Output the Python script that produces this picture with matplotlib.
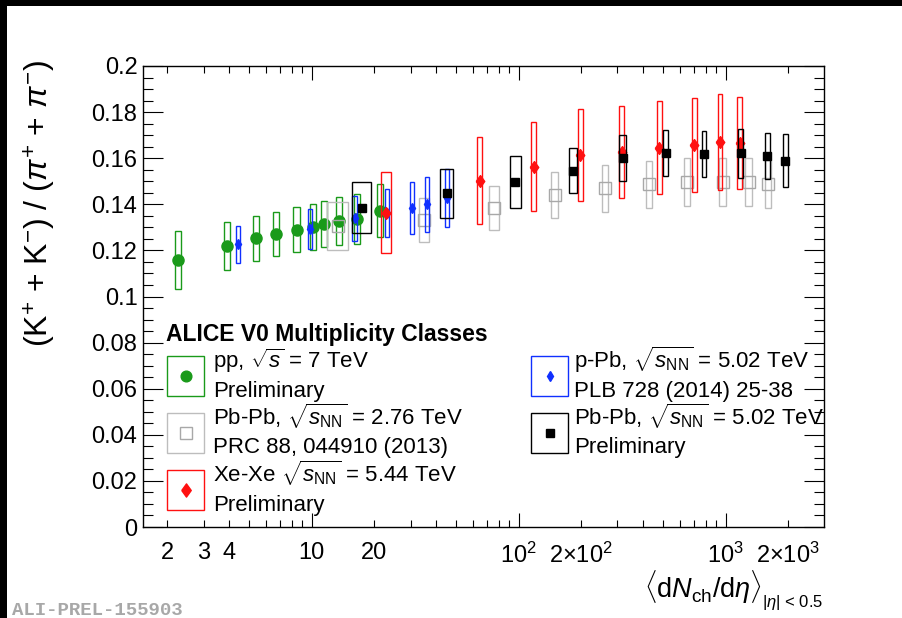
import matplotlib
matplotlib.use("Agg")
import matplotlib.pyplot as plt
from matplotlib.patches import Rectangle
from matplotlib.lines import Line2D
from matplotlib.ticker import FixedLocator, FuncFormatter, MultipleLocator

plt.rcParams['font.family'] = ['Liberation Sans', 'DejaVu Sans']
plt.rcParams['mathtext.fontset'] = 'custom'
plt.rcParams['mathtext.rm'] = 'Liberation Sans'
plt.rcParams['mathtext.it'] = 'Liberation Sans:italic'
plt.rcParams['mathtext.bf'] = 'Liberation Sans:bold'

# ---- data: <dNch/deta>, (K+ + K-)/(pi+ + pi-), syst. uncertainty, dNch/deta uncertainty ----
pp_x = [2.26, 3.90, 5.40, 6.72, 8.45, 10.1, 11.5, 13.5, 16.5, 21.3]
pp_y = [0.1158, 0.1220, 0.1252, 0.1271, 0.1289, 0.1303, 0.1315, 0.1328, 0.1336, 0.1373]
pp_sys = [0.0126, 0.0103, 0.0097, 0.0096, 0.0098, 0.0100, 0.0101, 0.0104, 0.0108, 0.0117]
pp_xerr = [0.08, 0.13, 0.18, 0.23, 0.29, 0.34, 0.39, 0.46, 0.56, 0.72]

pbpb276_x = [13.4, 35.0, 76.0, 149.0, 261.0, 426.0, 649.0, 966.0, 1294.0, 1601.0]
pbpb276_y = [0.1305, 0.1332, 0.1385, 0.1440, 0.1469, 0.1487, 0.1498, 0.1498, 0.1498, 0.1487]
pbpb276_sys = [0.0105, 0.0095, 0.0096, 0.0098, 0.0103, 0.0103, 0.0105, 0.0105, 0.0105, 0.0104]
pbpb276_xerr = [1.6, 2.0, 4.0, 6.0, 9.0, 15.0, 23.0, 37.0, 49.0, 60.0]

ppb_x = [4.4, 9.8, 16.1, 23.2, 30.5, 36.2, 45.0]
ppb_y = [0.1226, 0.1293, 0.1340, 0.1362, 0.1385, 0.1400, 0.1427]
ppb_sys = [0.0079, 0.0088, 0.0098, 0.0106, 0.0112, 0.0119, 0.0127]
ppb_xerr = [0.1, 0.2, 0.4, 0.5, 0.7, 0.8, 1.0]

xexe_x = [22.9, 64.7, 118.0, 198.0, 315.0, 478.0, 706.0, 939.0, 1167.0]
xexe_y = [0.1364, 0.1502, 0.1563, 0.1614, 0.1627, 0.1646, 0.1657, 0.1672, 0.1665]
xexe_sys = [0.0174, 0.0188, 0.0192, 0.0199, 0.0199, 0.0202, 0.0203, 0.0208, 0.0200]
xexe_xerr = [1.2, 1.8, 3.3, 5.5, 8.8, 13.0, 20.0, 26.0, 33.0]

pbpb502_x = [17.5, 44.9, 96.3, 183.0, 318.0, 512.0, 786.0, 1180.0, 1587.0, 1943.0]
pbpb502_y = [0.1385, 0.1448, 0.1498, 0.1546, 0.1602, 0.1621, 0.1617, 0.1621, 0.1610, 0.1589]
pbpb502_sys = [0.0111, 0.0106, 0.0113, 0.0099, 0.0100, 0.0100, 0.0100, 0.0105, 0.0100, 0.0114]
pbpb502_xerr = [1.8, 3.4, 5.8, 8.0, 12.0, 15.0, 20.0, 31.0, 47.0, 54.0]

x_label_pos = [2, 3, 4, 10, 20, 100, 200, 1000, 2000]
x_label_txt = ["2", "3", "4", "10", "20", r"$10^{2}$", r"$2{\times}10^{2}$",
               r"$10^{3}$", r"$2{\times}10^{3}$"]
y_tick_pos = [0.0, 0.02, 0.04, 0.06, 0.08, 0.10, 0.12, 0.14, 0.16, 0.18, 0.20]
y_tick_txt = ["0", "0.02", "0.04", "0.06", "0.08", "0.1", "0.12", "0.14", "0.16", "0.18", "0.2"]

GREEN = '#1a9a1a'
GRAY_BOX = '#bdbdbd'
GRAY_MK = '#a8a8a8'
RED = '#ff1010'
BLUE = '#1030ff'
BLACK = '#000000'

# ---- figure / axes in pixel units ----
W, H = 902, 618
fig = plt.figure(figsize=(W / 100, H / 100), dpi=100)
fig.patch.set_facecolor('white')
ax = fig.add_axes([143 / W, 1 - 527 / H, (824 - 143) / W, (527 - 66) / H])


def fx(px):
    return px / W


def fy(py):
    return 1 - py / H


# diamond marker with the proportions used here
red_diamond = [(-0.36, 0.0), (0.0, 0.5), (0.36, 0.0), (0.0, -0.5), (-0.36, 0.0)]


def draw_boxes(xs, ys, sys, xerr, color, z, lw=1.0):
    for xi, yi, si, ei in zip(xs, ys, sys, xerr):
        ax.add_patch(Rectangle((xi - ei, yi - si), 2 * ei, 2 * si, fill=False,
                               ec=color, lw=lw, zorder=z))


draw_boxes(pp_x, pp_y, pp_sys, pp_xerr, GREEN, 2)
ax.plot(pp_x, pp_y, ls='none', marker='o', ms=8, color=GREEN, mec=GREEN, zorder=2.5)

draw_boxes(pbpb276_x, pbpb276_y, pbpb276_sys, pbpb276_xerr, GRAY_BOX, 3)
ax.plot(pbpb276_x, pbpb276_y, ls='none', marker='s', ms=8, mfc='none', mec=GRAY_MK,
        mew=1.0, zorder=3.5)

draw_boxes(ppb_x, ppb_y, ppb_sys, ppb_xerr, BLUE, 4)
ax.plot(ppb_x, ppb_y, ls='none', marker='d', ms=5, color=BLUE, mec=BLUE, zorder=4.5)

draw_boxes(xexe_x, xexe_y, xexe_sys, xexe_xerr, RED, 5)
ax.plot(xexe_x, xexe_y, ls='none', marker=red_diamond, ms=8.5, color=RED, mec=RED,
        zorder=5.5)

draw_boxes(pbpb502_x, pbpb502_y, pbpb502_sys, pbpb502_xerr, BLACK, 6)
ax.plot(pbpb502_x, pbpb502_y, ls='none', marker='s', ms=5.5, color=BLACK, zorder=6.5)

# ---- axes ----
ax.set_xscale('log')
ax.set_xlim(1.53, 2985)
ax.set_ylim(0, 0.2)

label_map = dict(zip(x_label_pos, x_label_txt))
majors = [10, 100, 1000]
minors = [m * 10 ** d for d in range(0, 4) for m in range(2, 10) if 1.53 <= m * 10 ** d <= 2985]
ax.xaxis.set_major_locator(FixedLocator(majors))
ax.xaxis.set_minor_locator(FixedLocator(minors))


def xfmt(v, pos):
    for k, t in label_map.items():
        if abs(v - k) < 1e-6 * k:
            return t
    return ""


ax.xaxis.set_major_formatter(FuncFormatter(xfmt))
ax.xaxis.set_minor_formatter(FuncFormatter(xfmt))

ax.yaxis.set_major_locator(FixedLocator(y_tick_pos))
ax.set_yticklabels(y_tick_txt)
ax.yaxis.set_minor_locator(MultipleLocator(0.005))

for s in ax.spines.values():
    s.set_linewidth(1.0)

ax.tick_params(axis='both', which='both', direction='in', top=True, right=True,
               labelsize=17, width=0.8)
ax.tick_params(axis='x', which='major', length=10, pad=11)
ax.tick_params(axis='x', which='minor', length=5, pad=11)
ax.tick_params(axis='y', which='major', length=14.4, pad=4)
ax.tick_params(axis='y', which='minor', length=7.2)

# ---- axis titles ----
fig.text(fx(40), fy(60), r"(K$^{+}$ + K$^{-}$) / ($\pi^{+}$ + $\pi^{-}$)",
         rotation=90, ha='center', va='top', fontsize=23)
fig.text(fx(762), fy(598), r"$\langle{\rm d}N_{\rm ch}/{\rm d}\eta\rangle$",
         ha='right', va='baseline', fontsize=19.5)
fig.text(fx(823), fy(607), r"$|\eta|$ < 0.5", ha='right', va='baseline', fontsize=12)

# ---- legend ----
fig.text(fx(166), fy(341), "ALICE V0 Multiplicity Classes", fontsize=16.5,
         fontweight='bold', ha='left', va='baseline')

legend_entries = [
    # box left, box top, text x, line1, line2, colour, marker kwargs
    (167, 356, 213, r"pp, $\sqrt{s}$ = 7 TeV", "Preliminary", GREEN,
     dict(marker='o', ms=7.7, color=GREEN, mec=GREEN)),
    (167, 413, 213, r"Pb-Pb, $\sqrt{s_{\rm NN}}$ = 2.76 TeV", "PRC 88, 044910 (2013)", GRAY_BOX,
     dict(marker='s', ms=8.4, mfc='none', mec=GRAY_MK, mew=1.0)),
    (167, 470, 213, r"Xe-Xe $\sqrt{s_{\rm NN}}$ = 5.44 TeV", "Preliminary", RED,
     dict(marker=red_diamond, ms=9.5, color=RED, mec=RED)),
    (531, 356, 574, r"p-Pb, $\sqrt{s_{\rm NN}}$ = 5.02 TeV", "PLB 728 (2014) 25-38", BLUE,
     dict(marker='d', ms=5, color=BLUE, mec=BLUE)),
    (531, 413, 574, r"Pb-Pb, $\sqrt{s_{\rm NN}}$ = 5.02 TeV", "Preliminary", BLACK,
     dict(marker='s', ms=5.5, color=BLACK)),
]
for bx, by, tx, l1, l2, col, mk in legend_entries:
    bw, bh = 37, 40
    fig.add_artist(Rectangle((fx(bx), fy(by + bh)), bw / W, bh / H, fill=False, ec=col,
                             lw=1.0, transform=fig.transFigure))
    fig.add_artist(Line2D([fx(bx + bw / 2)], [fy(by + bh / 2)], ls='none',
                          transform=fig.transFigure, **mk))
    fig.text(fx(tx), fy(by + 12), l1, fontsize=16, ha='left', va='baseline')
    fig.text(fx(tx), fy(by + 40.5), l2, fontsize=16, ha='left', va='baseline')

fig.text(fx(12), fy(615), "ALI-PREL-155903", family=['Liberation Mono', 'DejaVu Sans Mono'],
         fontweight='bold', fontsize=13.7, color='#a8a8a8', ha='left', va='baseline')

# frame strips along the left and top edges
fig.add_artist(Rectangle((0, 0), 7 / W, 1, transform=fig.transFigure, color='black', lw=0))
fig.add_artist(Rectangle((0, fy(6)), 1, 6 / H, transform=fig.transFigure, color='black', lw=0))

fig.savefig("out.png", dpi=100)
